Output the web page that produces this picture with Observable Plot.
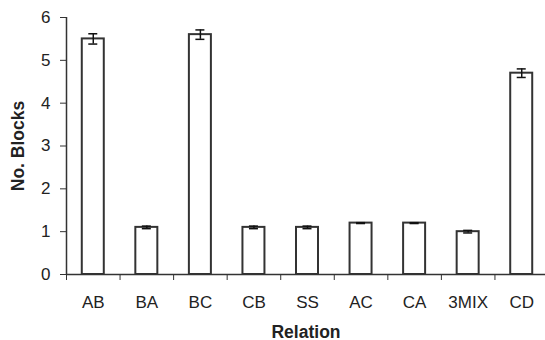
<!DOCTYPE html>
<html>
<head>
<meta charset="utf-8">
<script src="https://cdn.jsdelivr.net/npm/d3@7"></script>
<script src="https://cdn.jsdelivr.net/npm/@observablehq/plot@0.6"></script>
<style>
  html, body { margin: 0; padding: 0; background: #fff; }
</style>
</head>
<body>
<div id="chart"></div>
<script>
// Data
const relations = ["AB", "BA", "BC", "CB", "SS", "AC", "CA", "3MIX", "CD"];
const means     = [5.5, 1.1, 5.6, 1.1, 1.1, 1.2, 1.2, 1.0, 4.7];
const errors    = [0.12, 0.03, 0.11, 0.03, 0.03, 0.01, 0.01, 0.03, 0.10];
const yTicks    = [0, 1, 2, 3, 4, 5, 6];
const xTitle = "Relation";
const yTitle = "No. Blocks";

const data = relations.map((r, i) => ({rel: r, v: means[i], lo: means[i] - errors[i], hi: means[i] + errors[i]}));

const xRange = [66, 548];
const step = Plot.scale({x: {type: "band", domain: relations, range: xRange, padding: 0, round: false}}).bandwidth;
const ink = "#333";
const font = "'Liberation Sans', Arial, sans-serif";

const chart = Plot.plot({
  width: 545,
  height: 340,
  marginTop: 17,
  marginBottom: 66,
  marginLeft: 66,
  marginRight: 0,
  style: {fontFamily: font, fontSize: "17px", color: "#222", background: "#fff"},
  x: {type: "band", domain: relations, range: xRange, padding: 0, round: false},
  y: {domain: [0, 6]},
  marks: [
    Plot.barY(data, {x: "rel", y: "v", fill: "white", stroke: ink, strokeWidth: 2, insetLeft: (step - 22) / 2, insetRight: (step - 22) / 2}),
    Plot.ruleX(data, {x: "rel", y1: "lo", y2: "hi", stroke: "#111", strokeWidth: 1.5}),
    Plot.tickY(data, {x: "rel", y: "lo", stroke: "#111", strokeWidth: 1.5, inset: (step - 9) / 2}),
    Plot.tickY(data, {x: "rel", y: "hi", stroke: "#111", strokeWidth: 1.5, inset: (step - 9) / 2}),
    Plot.ruleY([0], {stroke: ink, strokeWidth: 1.5}),
    Plot.ruleX([relations[0]], {y1: 0, y2: 6, dx: -step / 2, stroke: ink, strokeWidth: 1.5}),
    Plot.axisY({ticks: yTicks, tickFormat: "d", tickSize: 6, tickPadding: 10, label: null, stroke: ink, fontSize: 17, fill: "#222"}),
    Plot.axisX({tickSize: 0, tickPadding: 21, label: null, fontSize: 17, fill: "#222"}),
    Plot.axisX({tickSize: 6, text: null, label: null, dx: -step / 2, stroke: ink}),
    Plot.text([yTitle], {frameAnchor: "left", textAnchor: "middle", rotate: -90, dx: -48, fontWeight: "bold", fontSize: 17.5, fill: "#222"}),
    Plot.text([xTitle], {frameAnchor: "bottom", dy: 63, fontWeight: "bold", fontSize: 17.5, fill: "#222"})
  ]
});
document.getElementById("chart").appendChild(chart);
</script>
</body>
</html>
